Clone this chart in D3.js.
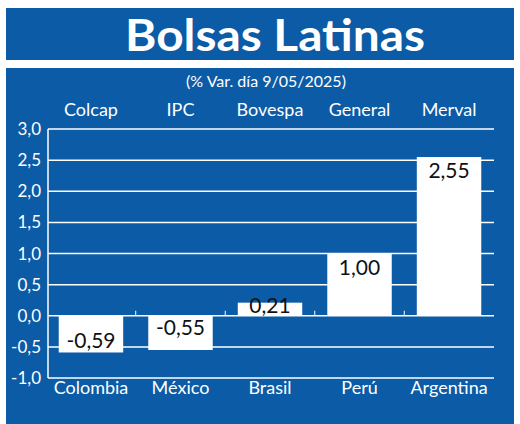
<!DOCTYPE html>
<html><head><meta charset="utf-8">
<script src="https://cdn.jsdelivr.net/npm/d3@7"></script>
<style>body{margin:0;background:#fff}</style>
</head><body>
<div id="chart"></div>
<script>
const countries = ["Colombia", "México", "Brasil", "Perú", "Argentina"];
const indices = ["Colcap", "IPC", "Bovespa", "General", "Merval"];
const values = [-0.59, -0.55, 0.21, 1.00, 2.55];
const yTicks = [-1, -0.5, 0, 0.5, 1, 1.5, 2, 2.5, 3];

const width = 520, height = 424;
const blue = "#0b5ba6";
const font = "Lato, 'Open Sans', sans-serif";
const fmt = v => d3.format(".2f")(v).replace(".", ",").replace("−", "-");
const fmtTick = v => d3.format(".1f")(v).replace(".", ",").replace("−", "-");

const svg = d3.select("#chart").append("svg")
  .attr("width", width).attr("height", height);

svg.append("rect").attr("x", 6).attr("y", 8).attr("width", 508).attr("height", 52).attr("fill", blue);
svg.append("rect").attr("x", 6).attr("y", 68).attr("width", 508).attr("height", 356).attr("fill", blue);

svg.append("text").attr("x", 125).attr("y", 51)
  .attr("fill", "#fff").attr("font-family", "Lato, sans-serif")
  .attr("font-weight", "bold").attr("font-size", 44)
  .attr("textLength", 300).attr("lengthAdjust", "spacingAndGlyphs").text("Bolsas Latinas");

svg.append("text").attr("x", 266).attr("y", 87).attr("text-anchor", "middle")
  .attr("fill", "#fff").attr("font-family", font).attr("font-size", 16)
  .text("(% Var. día 9/05/2025)");

const x = d3.scaleBand().domain(countries).range([48, 492]).paddingInner(0.28).paddingOuter(0.12);
const y = d3.scaleLinear().domain([-1, 3]).range([378, 129]);

svg.append("g").selectAll("line").data(yTicks).join("line")
  .attr("x1", 48).attr("x2", 494).attr("y1", d => y(d)).attr("y2", d => y(d))
  .attr("stroke", "#fff").attr("stroke-width", 1.5);
svg.append("line").attr("x1", 48).attr("x2", 48).attr("y1", y(3)).attr("y2", y(-1))
  .attr("stroke", "#fff").attr("stroke-width", 1.5);

const step = x.step();
svg.append("g").selectAll("line").data(countries.slice(1)).join("line")
  .attr("x1", d => x(d) - x.paddingInner() * step / 2).attr("x2", d => x(d) - x.paddingInner() * step / 2)
  .attr("y1", y(0)).attr("y2", y(0) - 5).attr("stroke", "#fff").attr("stroke-width", 1);

svg.append("g").selectAll("text").data(yTicks).join("text")
  .attr("x", 41).attr("y", d => y(d) + 6).attr("text-anchor", "end")
  .attr("fill", "#fff").attr("font-family", font).attr("font-size", 17).text(fmtTick);

svg.append("g").selectAll("rect").data(values).join("rect")
  .attr("x", (d, i) => x(countries[i])).attr("width", x.bandwidth())
  .attr("y", d => y(Math.max(d, 0))).attr("height", d => Math.abs(y(d) - y(0)))
  .attr("fill", "#fff");

svg.append("g").selectAll("text").data(values).join("text")
  .attr("x", (d, i) => x(countries[i]) + x.bandwidth() / 2)
  .attr("y", d => d < 0 ? y(0) + 32 - (d + 0.59) * 330 : (y(0) - y(d) < 25 ? y(d) + 10 : y(d) + 21))
  .attr("text-anchor", "middle").attr("fill", "#111").attr("font-family", font)
  .attr("font-size", 21).text(fmt);

svg.append("g").selectAll("text").data(indices).join("text")
  .attr("x", (d, i) => x(countries[i]) + x.bandwidth() / 2).attr("y", 116)
  .attr("text-anchor", "middle").attr("fill", "#fff").attr("font-family", font)
  .attr("font-size", 18).text(d => d);

svg.append("g").selectAll("text").data(countries).join("text")
  .attr("x", d => x(d) + x.bandwidth() / 2).attr("y", 394)
  .attr("text-anchor", "middle").attr("fill", "#fff").attr("font-family", font)
  .attr("font-size", 18).text(d => d);
</script>
</body></html>
